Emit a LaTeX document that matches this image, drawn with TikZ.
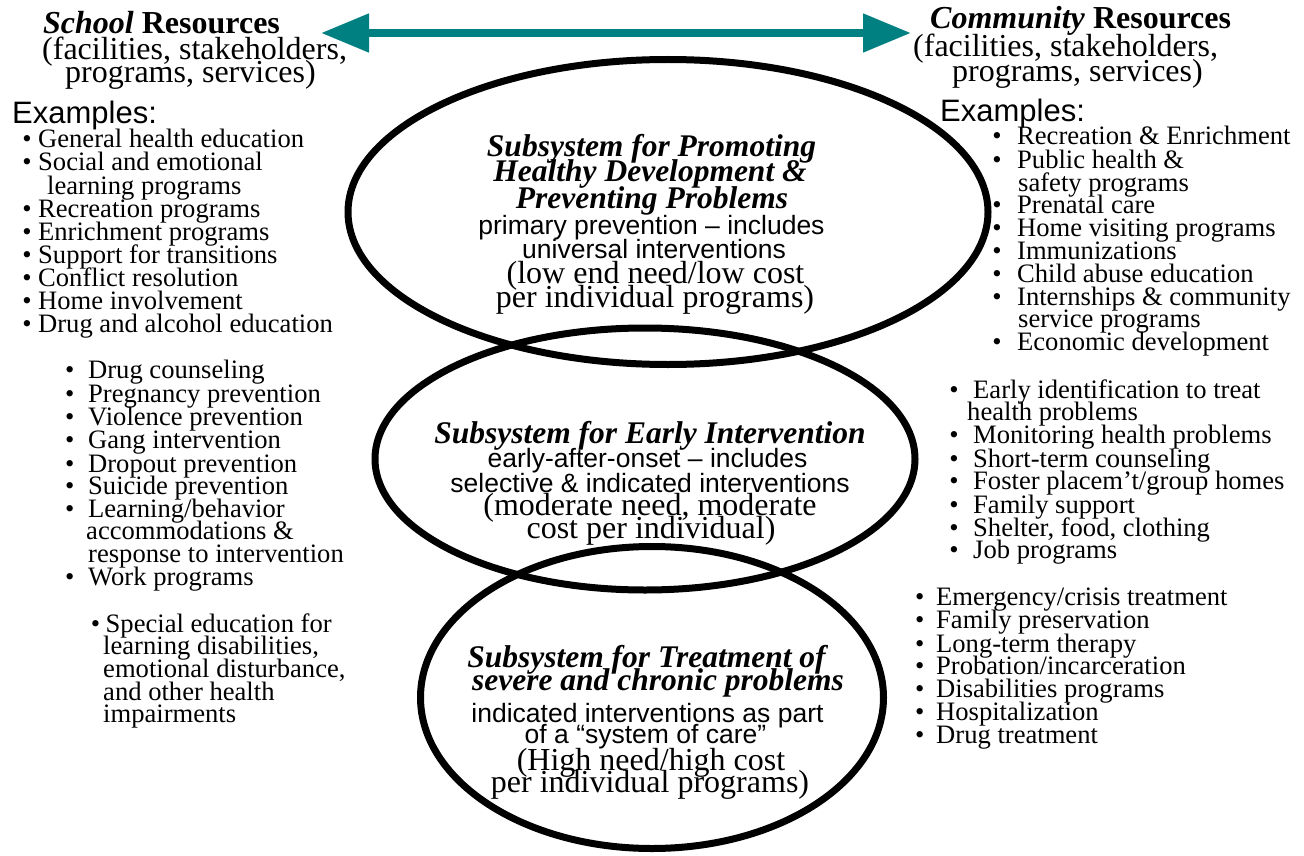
\documentclass[tikz,border=0pt]{standalone}
\usepackage{fontspec}
\setmainfont{Liberation Serif}
\newfontfamily\arialf{Liberation Sans}
\usetikzlibrary{arrows.meta}
\definecolor{tealarrow}{RGB}{0,128,128}
\newcommand\bu[1]{\llap{•\hspace{#1pt}}}
\begin{document}
\begin{tikzpicture}[x=1pt,y=-1pt,
  itm/.style={anchor=base west, inner sep=0pt, font=\fontsize{26.6}{23}\selectfont},
  hdr/.style={anchor=base west, inner sep=0pt, font=\fontsize{32}{26}\selectfont},
  exm/.style={anchor=base west, inner sep=0pt, font=\arialf\fontsize{31}{26}\selectfont},
  ttl/.style={anchor=base, inner sep=0pt, font=\fontsize{31.5}{26}\selectfont\bfseries\itshape},
  ser/.style={anchor=base, inner sep=0pt, font=\fontsize{32}{26}\selectfont},
  san/.style={anchor=base, inner sep=0pt, font=\arialf\fontsize{26.5}{24}\selectfont},
  ring/.style={line width=7pt, draw=black},
  biarrow/.style={draw=tealarrow, line width=8pt,
    {Triangle[length=48pt,width=37pt]}-{Triangle[length=48pt,width=37pt]}}
]
\useasboundingbox (0,0) rectangle (1304,856);
\fill[white] (0,0) rectangle (1304,856);

% headers
\node[hdr] (shd1) at (43,34) {\textbf{\textit{School} Resources}};
\node[hdr] (shd2) at (42,60) {(facilities, stakeholders,};
\node[hdr] (shd3) at (65,83) {programs, services)};
\node[exm] (sex) at (12,124) {Examples:};
\node[hdr] (chd1) at (930,29) {\textbf{\textit{Community} Resources}};
\node[hdr] (chd2) at (913,57) {(facilities, stakeholders,};
\node[hdr] (chd3) at (952,82) {programs, services)};
\node[exm] (cex) at (940,122) {Examples:};

% arrow
\coordinate (aL) at (321,33);
\coordinate (aR) at (911,33);
\draw[biarrow] (aL) -- (aR);

% left lists
\foreach \y/\t [count=\i] in {148/General health education,171/Social and emotional,217/Recreation programs,240/Enrichment programs,263/Support for transitions,286/Conflict resolution,309/Home involvement,332/Drug and alcohol education}
  \node[itm] (la\i) at (38,\y) {\bu{6.4}\t};
\node[itm] (la9) at (47,194) {learning programs};

\foreach \y/\t [count=\i] in {378/Drug counseling,402/Pregnancy prevention,425/Violence prevention,448/Gang intervention,472/Dropout prevention,494/Suicide prevention,585/Work programs}
  \node[itm] (lb\i) at (88,\y) {\bu{13.8}\t};
\node[itm] (lb8) at (88,517) {\bu{13.8}Learning/behavior};
\node[itm] (lb9) at (86,539) {accommodations \&};
\node[itm] (lb10) at (88,562) {response to intervention};

\node[itm] (lc1) at (105.5,632) {\bu{5.4}Special education for};
\node[itm] (lc2) at (103,654) {learning disabilities,};
\node[itm] (lc3) at (103,677) {emotional disturbance,};
\node[itm] (lc4) at (103,700) {and other health};
\node[itm] (lc5) at (103,722) {impairments};

% right lists
\foreach \y/\t [count=\i] in {145/Recreation \& Enrichment,168/Public health \&,213/Prenatal care,236/Home visiting programs,259/Immunizations,282/Child abuse education,305/Internships \& community,350/Economic development}
  \node[itm] (ra\i) at (1017,\y) {\bu{15.4}\t};
\node[itm] (ra9) at (1018,191) {safety programs};
\node[itm] (ra10) at (1018,327) {service programs};

\foreach \y/\t [count=\i] in {398/Early identification to treat,443/Monitoring health problems,467/Short-term counseling,513/Family support,558/Job programs}
  \node[itm] (rb\i) at (973,\y) {\bu{14.4}\t};
\node[itm] (rb6) at (973,489) {\bu{14.4}Foster placem’t/group homes};
\node[itm] (rb7) at (973,536) {\bu{14.4}Shelter, food, clothing};
\node[itm] (rb8) at (967,420) {health problems};

\foreach \y/\t [count=\i] in {628/Family preservation,652/Long-term therapy,697/Disabilities programs,720/Hospitalization,743/Drug treatment}
  \node[itm] (rc\i) at (936,\y) {\bu{11.8}\t};
\node[itm] (rc6) at (936,605) {\bu{11.8}Emergency/crisis treatment};
\node[itm] (rc7) at (936,674) {\bu{11.8}Probation/incarceration};

% top ellipse text
\node[ttl] (t1) at (651.5,157) {Subsystem for Promoting};
\node[ttl] (t2) at (650,182) {Healthy Development \&};
\node[ttl] (t3) at (652,208) {Preventing Problems};
\node[san] (t4) at (651.5,234) {primary prevention – includes};
\node[san] (t5) at (654,258) {universal interventions};
\node[ser] (t6) at (655.5,283) {(low end need/low cost};
\node[ser] (t7) at (655,307) {per individual programs)};

% middle ellipse text
\node[ttl] (m1) at (650,443) {Subsystem for Early Intervention};
\node[san] (m2) at (647.5,467) {early-after-onset – includes};
\node[san] (m3) at (650,492) {selective \& indicated interventions};
\node[ser] (m4) at (650,515) {(moderate need, moderate};
\node[ser] (m5) at (651,538) {cost per individual)};

% bottom ellipse text
\node[ttl] (b1) at (646.5,667) {Subsystem for Treatment of};
\node[ttl] (b2) at (658,690) {severe and chronic problems};
\node[san] (b3) at (647.5,722) {indicated interventions as part};
\node[san] (b4) at (645.5,743) {of a “system of care”};
\node[ser] (b5) at (651,770) {(High need/high cost};
\node[ser] (b6) at (650,792) {per individual programs)};

% ellipses
\coordinate (E1) at (668,212);
\coordinate (E2) at (645,459);
\coordinate (E3) at (652,697.5);
\draw[ring] (E1) ellipse [x radius=320pt, y radius=152.5pt];
\draw[ring] (E2) ellipse [x radius=270pt, y radius=131pt];
\draw[ring] (E3) ellipse [x radius=231.5pt, y radius=151pt];
\end{tikzpicture}
\end{document}
